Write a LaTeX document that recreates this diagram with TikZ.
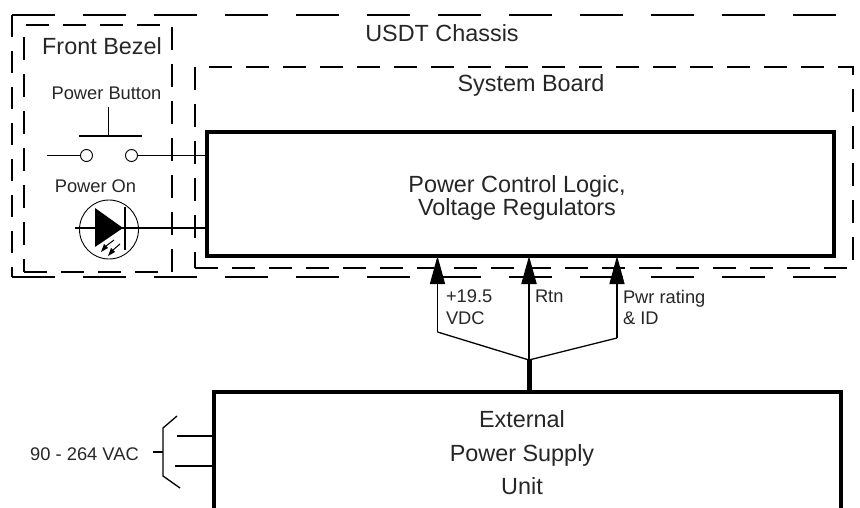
\documentclass[tikz,border=0pt]{standalone}
\usepackage{fontspec}
\setmainfont{Liberation Sans}
\usetikzlibrary{arrows.meta}
\begin{document}
\begin{tikzpicture}[x=1pt,y=-1pt,
  bigfont/.style={font=\fontsize{23.4}{23}\selectfont},
  psufont/.style={font=\fontsize{23.4}{33.5}\selectfont},
  smallfont/.style={font=\fontsize{18.3}{21.5}\selectfont},
  solidbox/.style={draw,line width=3.5pt,inner sep=0pt,outer sep=0pt},
  dashbox/.style={draw,line width=2pt,dash pattern=on 23pt off 14pt,inner sep=0pt,outer sep=0pt},
  longdash/.style={line width=2pt,dash pattern=on 43pt off 28pt},
  shortdash/.style={line width=2pt,dash pattern=on 22pt off 14pt},
  wire/.style={line width=1.3pt},
  txt/.style={inner sep=0pt,outer sep=0pt,text=black!85},
  arrowline/.style={line width=1.3pt,-{Triangle[length=28pt,width=15pt]}},
]
\useasboundingbox (0,0) rectangle (860,508);
\clip (0,0) rectangle (860,508);

% USDT chassis (extends past the right edge)
\coordinate (chTL) at (12,15);
\coordinate (chTR) at (870,15);
\coordinate (chBL) at (12,277);
\coordinate (chBR) at (870,277);
\draw[longdash] (chTL) -- (chTR);
\draw[longdash] (chBL) -- (chBR);
\draw[shortdash] (chTL) -- (chBL);
\node[txt,bigfont,anchor=base] (chlbl) at (442,42) {USDT Chassis};

% Front bezel
\node[dashbox,minimum width=148pt,minimum height=247pt] (bezel) at (98,148.5) {};
\node[txt,bigfont,anchor=base] (bezlbl) at (102,55) {Front Bezel};

% System board
\node[dashbox,minimum width=658pt,minimum height=201pt] (board) at (524,167.5) {};
\node[txt,bigfont,anchor=base] (boardlbl) at (531,91.5) {System Board};

% Power control logic
\node[solidbox,minimum width=627pt,minimum height=124pt] (pcl) at (520.5,194) {};
\node[txt,bigfont,align=center] (pcltxt) at (517,197.5) {Power Control Logic,\\Voltage Regulators};

% Power button
\node[txt,smallfont,anchor=base] (pbtn) at (106.5,100) {Power Button};
\coordinate (plTop) at (108.5,107);
\coordinate (plBot) at (108.5,136);
\coordinate (plL) at (79,136);
\coordinate (plR) at (142,136);
\draw[wire] (plTop) -- (plBot);
\draw[wire] (plL) -- (plR);
\node[draw,circle,line width=0.9pt,minimum size=12pt,inner sep=0pt,outer sep=0pt] (sw1) at (86.5,155.5) {};
\node[draw,circle,line width=0.9pt,minimum size=12pt,inner sep=0pt,outer sep=0pt] (sw2) at (131.5,155.5) {};
\coordinate (swin) at (47,155.5);
\draw[wire] (swin) -- (sw1.west);
\draw[wire] (sw2.east) -- (pcl.west |- sw2.east);

% Power On LED
\node[txt,smallfont,anchor=base] (pon) at (95.5,193) {Power On};
\node[draw,circle,line width=0.9pt,minimum size=59pt,inner sep=0pt,outer sep=0pt] (led) at (109,229.5) {};
\coordinate (dL) at (75,228);
\coordinate (dR) at (148,228);
\draw[line width=2.5pt] (dL) -- (dR);
\fill (95,208) -- (95,247) -- (123,228) -- cycle;
\draw[line width=2.8pt] (125,207) -- (125,250);
\fill (101,252) -- (104,244) -- (108,248) -- cycle;
\fill (108,256) -- (111,248) -- (115,252) -- cycle;
\draw[line width=1pt] (106,246) -- (114,240);
\draw[line width=1pt] (113,250) -- (120,244);
\coordinate (ledout) at (123,228);
\draw[wire] (ledout) -- (pcl.west |- ledout);

% External power supply (extends past the bottom edge)
\node[solidbox,minimum width=627pt,minimum height=123pt] (psu) at (527.5,453.5) {};
\node[txt,psufont,align=center] (psutxt) at (522,453) {External\\Power Supply\\Unit};

% Cable and connectors
\coordinate (j) at (529,360);
\coordinate (lk) at (437.5,332);
\coordinate (rk) at (617,338);
\draw[line width=5pt] (psu.north -| j) -- (j);
\draw[line width=1.3pt] (lk) -- (j) -- (rk);
\draw[arrowline] (lk) -- (pcl.south -| lk);
\draw[arrowline,line width=2pt] (j) -- (pcl.south -| j);
\draw[arrowline] (rk) -- (pcl.south -| rk);
\node[txt,smallfont,anchor=north west,align=left] (v19) at (446,290) {+19.5\\VDC};
\node[txt,smallfont,anchor=north west,align=left] (rtn) at (535,290) {Rtn};
\node[txt,smallfont,anchor=north west,align=left] (pwr) at (623,290) {Pwr rating\\\& ID};

% AC input
\node[txt,smallfont,anchor=base] (aclbl) at (84.5,460) {90 - 264 VAC};
\coordinate (acStub) at (153,452);
\coordinate (acMid) at (163,452);
\coordinate (acTop) at (163,428);
\coordinate (acBot) at (163,476);
\coordinate (acTopEnd) at (177,416);
\coordinate (acBotEnd) at (180,488);
\coordinate (acL1) at (177,436);
\coordinate (acL2) at (175,466);
\draw[wire] (acStub) -- (acMid);
\draw[wire] (acTopEnd) -- (acTop) -- (acBot) -- (acBotEnd);
\draw[wire] (acL1) -- (psu.west |- acL1);
\draw[wire] (acL2) -- (psu.west |- acL2);
\end{tikzpicture}
\end{document}
